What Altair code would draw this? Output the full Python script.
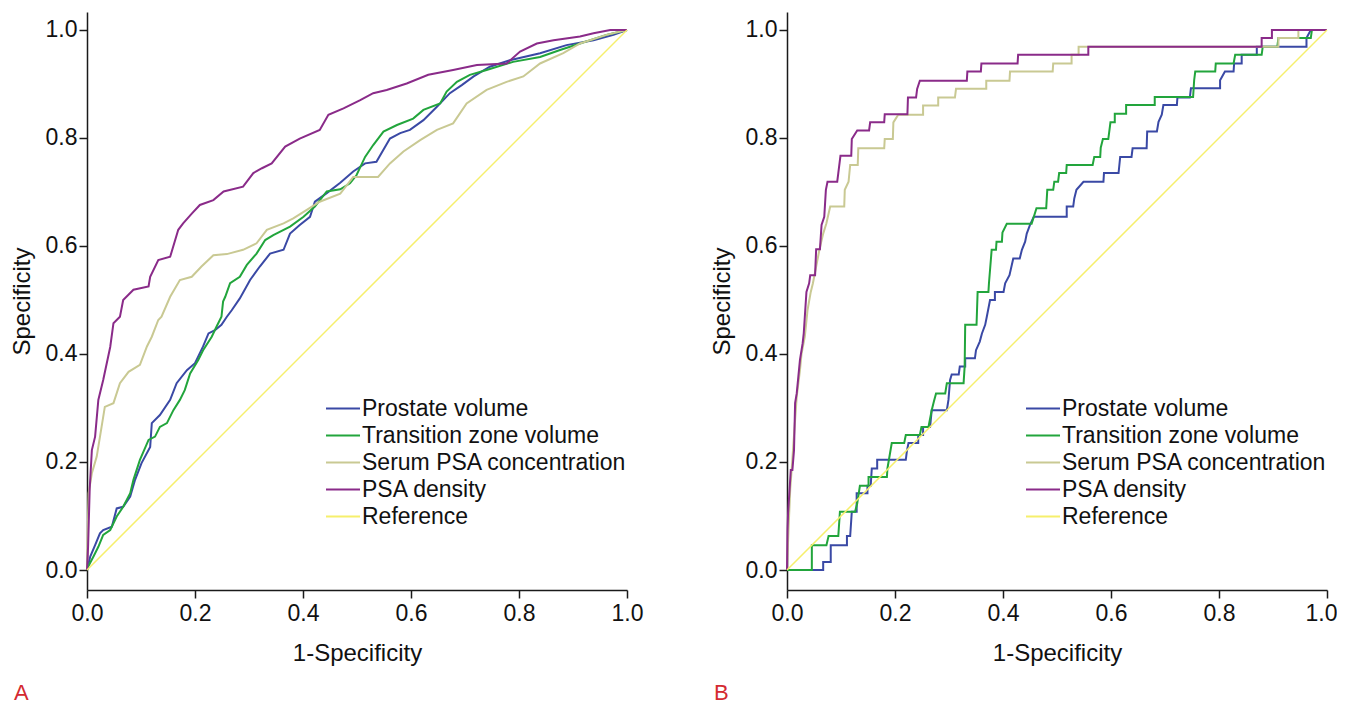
import altair as alt
import pandas as pd

SERIES = ["Prostate volume", "Transition zone volume", "Serum PSA concentration", "PSA density", "Reference"]
COLORS = ["#3a49a5", "#22a53c", "#c9c993", "#8a2b89", "#f6ef6c"]
TICKS = [0.0, 0.2, 0.4, 0.6, 0.8, 1.0]
PANELS = ["A", "B"]

# ---- Panel A (x = 1-Specificity, y = Specificity) ----
A_PV = [(0, 0), (0.006, 0.025), (0.015, 0.046), (0.024, 0.068), (0.030, 0.074), (0.046, 0.080), (0.055, 0.114),
        (0.067, 0.117), (0.080, 0.136), (0.089, 0.167), (0.101, 0.198), (0.117, 0.228), (0.120, 0.272), (0.135, 0.287),
        (0.154, 0.315), (0.166, 0.346), (0.185, 0.370), (0.200, 0.383), (0.215, 0.414), (0.225, 0.438), (0.237, 0.444),
        (0.249, 0.454), (0.259, 0.469), (0.268, 0.481), (0.283, 0.503), (0.302, 0.537), (0.320, 0.562), (0.339, 0.586),
        (0.364, 0.593), (0.376, 0.623), (0.394, 0.639), (0.413, 0.654), (0.422, 0.682), (0.444, 0.698), (0.469, 0.717),
        (0.493, 0.738), (0.515, 0.753), (0.536, 0.756), (0.561, 0.799), (0.580, 0.809), (0.598, 0.815), (0.623, 0.833),
        (0.648, 0.858), (0.672, 0.883), (0.694, 0.898), (0.716, 0.914), (0.746, 0.932), (0.783, 0.944), (0.839, 0.957),
        (0.888, 0.972), (0.938, 0.981), (0.975, 0.991), (1, 1)]
A_TZV = [(0, 0), (0.002, 0.006), (0.012, 0.025), (0.021, 0.043), (0.030, 0.065), (0.043, 0.074), (0.055, 0.099),
         (0.067, 0.117), (0.080, 0.142), (0.086, 0.167), (0.098, 0.204), (0.114, 0.241), (0.126, 0.247), (0.135, 0.265),
         (0.148, 0.272), (0.160, 0.296), (0.172, 0.315), (0.181, 0.333), (0.191, 0.364), (0.206, 0.389), (0.215, 0.407),
         (0.231, 0.432), (0.240, 0.451), (0.249, 0.469), (0.252, 0.497), (0.256, 0.506), (0.265, 0.531), (0.283, 0.543),
         (0.296, 0.565), (0.314, 0.586), (0.330, 0.611), (0.345, 0.620), (0.376, 0.636), (0.401, 0.654), (0.422, 0.673),
         (0.444, 0.701), (0.469, 0.705), (0.487, 0.716), (0.499, 0.731), (0.515, 0.765), (0.530, 0.787), (0.549, 0.812),
         (0.574, 0.824), (0.604, 0.836), (0.623, 0.852), (0.654, 0.864), (0.666, 0.886), (0.685, 0.904), (0.709, 0.917),
         (0.740, 0.926), (0.789, 0.941), (0.839, 0.950), (0.876, 0.963), (0.913, 0.975), (0.962, 0.991), (1, 1)]
A_PSA = [(0, 0), (0.001, 0.060), (0.002, 0.099), (0.003, 0.142), (0.009, 0.179), (0.018, 0.210), (0.027, 0.265),
         (0.033, 0.302), (0.049, 0.309), (0.061, 0.346), (0.077, 0.367), (0.098, 0.380), (0.111, 0.414), (0.120, 0.432),
         (0.132, 0.463), (0.138, 0.469), (0.154, 0.506), (0.172, 0.537), (0.194, 0.543), (0.212, 0.562), (0.234, 0.583),
         (0.259, 0.585), (0.289, 0.593), (0.314, 0.605), (0.333, 0.630), (0.364, 0.642), (0.382, 0.651), (0.407, 0.667),
         (0.431, 0.682), (0.469, 0.697), (0.493, 0.728), (0.539, 0.728), (0.561, 0.753), (0.586, 0.775), (0.617, 0.796),
         (0.648, 0.815), (0.678, 0.827), (0.703, 0.864), (0.740, 0.889), (0.777, 0.904), (0.808, 0.914), (0.839, 0.938),
         (0.882, 0.957), (0.913, 0.975), (0.962, 0.991), (1, 1)]
A_PSAD = [(0, 0), (0.002, 0.043), (0.005, 0.150), (0.009, 0.222), (0.015, 0.247), (0.021, 0.315), (0.030, 0.352),
          (0.043, 0.413), (0.049, 0.457), (0.061, 0.469), (0.067, 0.500), (0.086, 0.519), (0.114, 0.525), (0.117, 0.543),
          (0.132, 0.574), (0.154, 0.580), (0.169, 0.630), (0.178, 0.642), (0.194, 0.660), (0.209, 0.676), (0.234, 0.685),
          (0.253, 0.701), (0.289, 0.710), (0.308, 0.735), (0.324, 0.744), (0.342, 0.753), (0.367, 0.784), (0.394, 0.799),
          (0.431, 0.815), (0.447, 0.843), (0.475, 0.855), (0.506, 0.870), (0.530, 0.883), (0.555, 0.889), (0.592, 0.901),
          (0.632, 0.917), (0.678, 0.926), (0.722, 0.935), (0.777, 0.938), (0.802, 0.960), (0.833, 0.975), (0.864, 0.981),
          (0.913, 0.988), (0.938, 0.994), (0.969, 1.0), (1, 1)]
REF = [(0, 0), (1, 1)]

# ---- Panel B ----
B_PV = [(0, 0), (0.067, 0), (0.067, 0.015), (0.081, 0.015), (0.081, 0.046), (0.111, 0.046), (0.111, 0.063),
        (0.117, 0.063), (0.120, 0.108), (0.129, 0.108), (0.129, 0.142), (0.149, 0.142), (0.149, 0.156), (0.155, 0.156),
        (0.157, 0.188), (0.167, 0.188), (0.167, 0.204), (0.220, 0.204), (0.222, 0.220), (0.225, 0.235), (0.243, 0.235),
        (0.243, 0.250), (0.252, 0.250), (0.252, 0.265), (0.265, 0.265), (0.268, 0.296), (0.296, 0.296), (0.299, 0.315),
        (0.302, 0.352), (0.305, 0.362), (0.318, 0.362), (0.320, 0.377), (0.330, 0.377), (0.330, 0.392), (0.348, 0.392),
        (0.350, 0.407), (0.357, 0.423), (0.361, 0.438), (0.367, 0.454), (0.370, 0.469), (0.376, 0.500), (0.385, 0.500),
        (0.385, 0.515), (0.401, 0.515), (0.404, 0.531), (0.412, 0.546), (0.419, 0.577), (0.431, 0.577), (0.435, 0.593),
        (0.441, 0.608), (0.444, 0.623), (0.450, 0.639), (0.457, 0.654), (0.518, 0.654), (0.518, 0.673), (0.530, 0.673),
        (0.532, 0.688), (0.536, 0.704), (0.549, 0.719), (0.586, 0.719), (0.587, 0.735), (0.614, 0.735), (0.617, 0.765),
        (0.638, 0.765), (0.640, 0.781), (0.666, 0.781), (0.667, 0.812), (0.685, 0.812), (0.688, 0.830), (0.694, 0.843),
        (0.697, 0.861), (0.722, 0.861), (0.723, 0.875), (0.746, 0.875), (0.748, 0.892), (0.802, 0.892), (0.802, 0.907),
        (0.811, 0.923), (0.827, 0.923), (0.828, 0.938), (0.842, 0.938), (0.842, 0.954), (0.870, 0.954), (0.870, 0.969),
        (0.962, 0.969), (0.962, 0.985), (0.970, 1.0), (1, 1)]
B_TZV = [(0, 0), (0.046, 0), (0.046, 0.046), (0.073, 0.046), (0.077, 0.063), (0.095, 0.063), (0.098, 0.108),
         (0.126, 0.108), (0.130, 0.123), (0.135, 0.156), (0.151, 0.156), (0.151, 0.172), (0.185, 0.172), (0.186, 0.188),
         (0.194, 0.235), (0.217, 0.235), (0.220, 0.250), (0.246, 0.250), (0.249, 0.265), (0.262, 0.265), (0.268, 0.296),
         (0.272, 0.312), (0.276, 0.327), (0.293, 0.327), (0.296, 0.346), (0.327, 0.346), (0.329, 0.377), (0.330, 0.454),
         (0.351, 0.454), (0.353, 0.515), (0.373, 0.515), (0.374, 0.531), (0.379, 0.593), (0.387, 0.593), (0.388, 0.608),
         (0.398, 0.608), (0.399, 0.625), (0.407, 0.641), (0.453, 0.641), (0.462, 0.670), (0.480, 0.670), (0.482, 0.704),
         (0.493, 0.704), (0.495, 0.719), (0.502, 0.719), (0.504, 0.735), (0.517, 0.735), (0.518, 0.750), (0.566, 0.750),
         (0.569, 0.765), (0.580, 0.765), (0.581, 0.782), (0.585, 0.798), (0.595, 0.798), (0.599, 0.829), (0.607, 0.829),
         (0.607, 0.845), (0.628, 0.845), (0.628, 0.861), (0.681, 0.861), (0.681, 0.876), (0.752, 0.876), (0.754, 0.907),
         (0.756, 0.923), (0.793, 0.923), (0.794, 0.938), (0.827, 0.938), (0.830, 0.954), (0.879, 0.954), (0.881, 0.969),
         (0.908, 0.969), (0.910, 0.985), (0.970, 0.985), (0.972, 1.0), (1, 1)]
B_PSA = [(0, 0), (0.003, 0.080), (0.006, 0.150), (0.009, 0.191), (0.012, 0.235), (0.018, 0.321), (0.024, 0.370),
         (0.027, 0.401), (0.033, 0.432), (0.038, 0.481), (0.044, 0.515), (0.048, 0.531), (0.054, 0.562), (0.060, 0.593),
         (0.067, 0.623), (0.073, 0.642), (0.080, 0.673), (0.106, 0.673), (0.107, 0.704), (0.114, 0.719), (0.117, 0.750),
         (0.131, 0.750), (0.132, 0.781), (0.180, 0.781), (0.181, 0.798), (0.196, 0.798), (0.197, 0.829), (0.206, 0.843),
         (0.252, 0.843), (0.252, 0.860), (0.280, 0.860), (0.280, 0.875), (0.311, 0.875), (0.313, 0.891), (0.369, 0.891),
         (0.369, 0.906), (0.412, 0.906), (0.413, 0.923), (0.492, 0.923), (0.493, 0.938), (0.527, 0.938), (0.527, 0.954),
         (0.540, 0.954), (0.540, 0.969), (0.910, 0.969), (0.910, 0.985), (0.947, 0.985), (0.947, 1.0), (1, 1)]
B_PSAD = [(0, 0), (0.001, 0.074), (0.002, 0.105), (0.007, 0.185), (0.010, 0.185), (0.013, 0.222), (0.015, 0.309),
          (0.018, 0.327), (0.021, 0.358), (0.024, 0.389), (0.029, 0.420), (0.031, 0.438), (0.033, 0.469), (0.036, 0.515),
          (0.041, 0.531), (0.043, 0.546), (0.052, 0.546), (0.054, 0.594), (0.061, 0.594), (0.064, 0.639), (0.069, 0.654),
          (0.072, 0.704), (0.075, 0.719), (0.093, 0.719), (0.095, 0.735), (0.099, 0.767), (0.119, 0.767), (0.120, 0.798),
          (0.130, 0.814), (0.152, 0.814), (0.154, 0.829), (0.180, 0.829), (0.181, 0.844), (0.223, 0.844), (0.224, 0.875),
          (0.239, 0.875), (0.241, 0.891), (0.246, 0.906), (0.333, 0.906), (0.334, 0.923), (0.359, 0.923), (0.360, 0.938),
          (0.427, 0.938), (0.428, 0.954), (0.558, 0.954), (0.558, 0.969), (0.879, 0.969), (0.879, 0.985), (0.898, 0.985),
          (0.898, 1.0), (1, 1)]

CURVES = {
    "A": [A_PV, A_TZV, A_PSA, A_PSAD, REF],
    "B": [B_PV, B_TZV, B_PSA, B_PSAD, REF],
}

FONT = "Liberation Sans"


def make_frame(panel):
    rows = []
    for name, pts in zip(SERIES, CURVES[panel]):
        for i, (x, y) in enumerate(pts):
            rows.append({"series": name, "x": x, "y": y, "order": i})
    return pd.DataFrame(rows)


def make_panel(panel, last_label_shift):
    df = make_frame(panel)
    color = alt.Color(
        "series:N",
        scale=alt.Scale(domain=SERIES, range=COLORS),
        legend=alt.Legend(
            title=None, orient="none", legendX=238, legendY=383,
            symbolType="stroke", symbolSize=1156, symbolStrokeWidth=2,
            labelFont=FONT, labelFontSize=23, labelColor="#111111",
            labelOffset=1, rowPadding=0, clipHeight=27, padding=0, labelLimit=0,
        ),
    )
    x_axis_kw = dict(values=TICKS, format=".1f", title="1-Specificity",
                     labelFlush=False, labelOverlap=False)
    if last_label_shift:
        x_axis_kw["labelOffset"] = {"condition": {"test": "datum.value >= 1", "value": last_label_shift},
                                    "value": 0}
    x = alt.X("x:Q", scale=alt.Scale(domain=[0, 1], nice=False, zero=False),
              axis=alt.Axis(**x_axis_kw))
    y = alt.Y("y:Q", scale=alt.Scale(domain=[-0.037037, 1.033333], nice=False, zero=False),
              axis=alt.Axis(values=TICKS, format=".1f", title="Specificity", labelOverlap=False))
    base = alt.Chart(df)
    curves = base.transform_filter(alt.datum.series != "Reference").mark_line(
        strokeWidth=2).encode(x=x, y=y, color=color, order="order:Q")
    ref = base.transform_filter(alt.datum.series == "Reference").mark_line(
        strokeWidth=1.5).encode(x=x, y=y, color=color, order="order:Q")
    return alt.layer(curves, ref).properties(
        width=540, height=578,
        title=alt.TitleParams(text=panel, orient="bottom", anchor="start", frame="bounds",
                              color="#d42a31", font=FONT, fontSize=22, fontWeight="normal",
                              offset=18, dx=4),
    )


chart = (
    alt.hconcat(make_panel("A", 0), make_panel("B", -6), spacing=67)
    .resolve_scale(color="independent")
    .properties(padding={"left": 2, "top": 4, "right": 0, "bottom": 0}, background="white")
    .configure_view(stroke=None)
    .configure_axis(
        domainColor="#1a1a1a", domainWidth=1.5, tickColor="#1a1a1a", tickWidth=1.5, tickSize=8,
        labelFont=FONT, labelFontSize=23, labelColor="#111111", labelPadding=2,
        titleFont=FONT, titleFontSize=24, titleFontWeight="normal", titleColor="#111111", grid=False,
    )
    .configure_axisX(labelPadding=4, titlePadding=16)
    .configure_axisY(titlePadding=11)
)

chart.save("out.html", embed_options={"renderer": "svg", "actions": False})
